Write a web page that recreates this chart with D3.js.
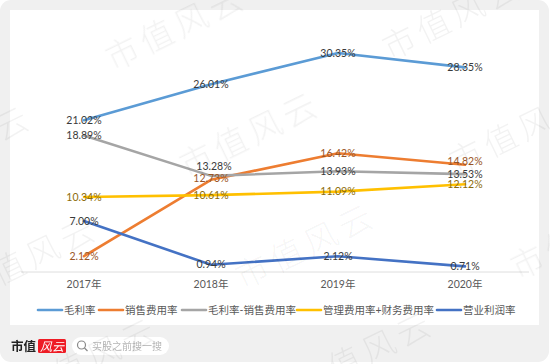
<!DOCTYPE html>
<html>
<head>
<meta charset="utf-8">
<script src="https://cdn.jsdelivr.net/npm/d3@7"></script>
<style>
  html, body { margin: 0; padding: 0; background: #fff; }
  svg { display: block; filter: blur(0.45px); }
  text { font-family: Lato, "Noto Sans CJK SC", sans-serif; }
</style>
</head>
<body>
<div class="chart"></div>
<script>
// --- Data ---
const years = ["2017年", "2018年", "2019年", "2020年"];
const seriesNames = ["毛利率", "销售费用率", "毛利率-销售费用率", "管理费用率+财务费用率", "营业利润率"];
const grossMargin = [21.02, 26.01, 30.35, 28.35];
const salesRate = [2.12, 12.73, 16.42, 14.82];
const grossMinusSales = [18.89, 13.28, 13.93, 13.53];
const adminRate = [10.34, 10.61, 11.09, 12.12];
const operatingMargin = [7.00, 0.94, 2.12, 0.71];
const watermarkText = "市值风云";

// --- Config ---
const width = 550;
const height = 364;
const colors = ["#5B9BD5", "#ED7D31", "#A5A5A5", "#FFC000", "#4472C4"];
const labelColors = ["#3a3a3a", "#9A5526", "#3a3a3a", "#8C6C0A", "#3a3a3a"];
// label nudges where the original labels were moved off their points [series][year]
const labelNudge = { "1-1": [0, -2], "1-3": [0, -3], "2-1": [3, -10] };
const legendX = [38, 99, 182, 297, 437];
const watermarkSpots = [
  [123, 53], [400, 43],
  [-91, 174], [197, 160], [467, 157],
  [-25, 285], [253, 272], [528, 262],
  [36, 386], [311, 380]
];

const svg = d3.select(".chart").append("svg")
  .attr("width", width)
  .attr("height", height)
  .attr("viewBox", `0 0 ${width} ${height}`);

// --- Panels ---
svg.append("rect").attr("width", width - 1).attr("height", height - 2).attr("rx", 11).attr("fill", "#f0f0f0");
svg.append("rect").attr("x", 10).attr("y", 10).attr("width", 254 + 275).attr("height", 315).attr("fill", "#fff");

// --- Scales ---
const x = d3.scaleBand().domain(years).range([20.5, 528.5]);
const y = d3.scaleLinear().domain([0, 35]).range([271.5, 19.5]);

const xAxis = d3.axisBottom(x).tickSize(0).tickPadding(9);
const axisG = svg.append("g")
  .attr("transform", "translate(0,271.5)")
  .call(xAxis);
axisG.select(".domain").attr("stroke", "#dedede").attr("stroke-width", 1);
axisG.selectAll("text").attr("fill", "#595959").style("font-size", "10.5px");

// --- Lines ---
const allSeries = [grossMargin, salesRate, grossMinusSales, adminRate, operatingMargin];
const px = i => x(years[i]) + x.bandwidth() / 2;
const line = d3.line().x((d, i) => px(i)).y(d => y(d));

svg.selectAll(".series").data(allSeries).enter().append("path")
  .attr("class", "series")
  .attr("fill", "none")
  .attr("stroke", (d, i) => colors[i])
  .attr("stroke-width", 2.6)
  .attr("stroke-linecap", "round")
  .attr("stroke-linejoin", "round")
  .attr("d", line);

// --- Value labels ---
allSeries.forEach((values, s) => {
  svg.selectAll(`.label${s}`).data(values).enter().append("text")
    .attr("class", `label${s}`)
    .attr("x", (d, i) => px(i) + (labelNudge[`${s}-${i}`] || [0, 0])[0])
    .attr("y", (d, i) => y(d) + (labelNudge[`${s}-${i}`] || [0, 0])[1])
    .attr("dy", "0.35em")
    .attr("text-anchor", "middle")
    .attr("fill", labelColors[s])
    .style("font-size", "10.5px")
    .text(d => `${d.toFixed(2)}%`);
});

// --- Legend ---
const legend = svg.selectAll(".legend").data(seriesNames).enter().append("g")
  .attr("class", "legend")
  .attr("transform", (d, i) => `translate(${legendX[i]},310)`);
legend.append("line")
  .attr("x2", 24)
  .attr("stroke", (d, i) => colors[i])
  .attr("stroke-width", 2.6)
  .attr("stroke-linecap", "round");
legend.append("text")
  .attr("x", 26)
  .attr("dy", "0.35em")
  .attr("fill", "#595959")
  .style("font-size", "10.5px")
  .text(d => d);

// --- Footer ---
svg.append("text").attr("x", 11).attr("y", 351)
  .attr("fill", "#222")
  .style("font-family", '"Noto Sans CJK SC"')
  .style("font-size", "12.5px")
  .style("font-weight", 700)
  .text("市值");
svg.append("rect").attr("x", 38).attr("y", 339).attr("width", 28).attr("height", 14).attr("rx", 1.5).attr("fill", "#ee1c25");
svg.append("text").attr("x", 40).attr("y", 350.5)
  .attr("fill", "#fff")
  .style("font-family", '"Noto Sans CJK SC"')
  .style("font-size", "12px")
  .style("font-style", "italic")
  .text("风云");
svg.append("rect").attr("x", 72).attr("y", 337).attr("width", 97).attr("height", 18).attr("rx", 9).attr("fill", "#fff");
svg.append("circle").attr("cx", 81.5).attr("cy", 345).attr("r", 4).attr("fill", "none").attr("stroke", "#8a8a8a").attr("stroke-width", 1.2);
svg.append("line").attr("x1", 84.5).attr("y1", 348).attr("x2", 87.5).attr("y2", 351).attr("stroke", "#8a8a8a").attr("stroke-width", 1.2);
svg.append("text").attr("x", 92).attr("y", 346).attr("dy", "0.35em")
  .attr("fill", "#b5b5b5")
  .style("font-size", "10px")
  .text("买股之前搜一搜");

// --- Watermark ---
svg.selectAll(".watermark").data(watermarkSpots).enter().append("text")
  .attr("class", "watermark")
  .attr("transform", d => `translate(${d[0]},${d[1]}) rotate(-26)`)
  .attr("dy", "0.35em")
  .attr("text-anchor", "start")
  .attr("fill", "#000")
  .attr("fill-opacity", 0.05)
  .style("font-family", '"Noto Sans CJK SC"')
  .style("font-weight", 300)
  .style("font-size", "33px")
  .style("letter-spacing", "5px")
  .attr("x", -17)
  .text(watermarkText);
</script>
</body>
</html>
